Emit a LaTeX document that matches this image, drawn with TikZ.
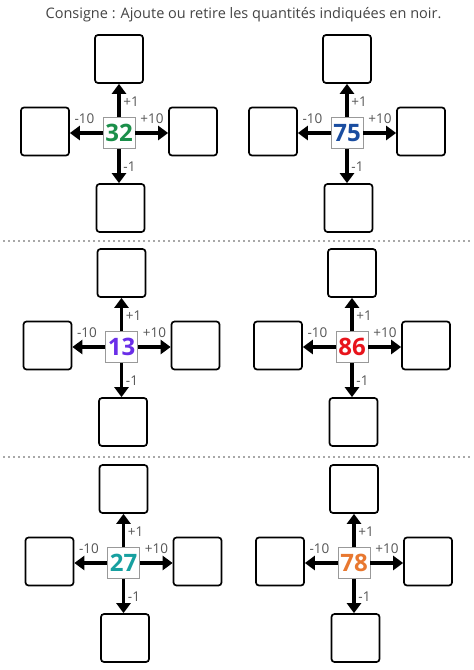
\documentclass[tikz,border=0pt]{standalone}
\usepackage{fontspec}
\setmainfont{Open Sans}
\usetikzlibrary{arrows.meta,calc}
\definecolor{titlegray}{HTML}{444444}
\definecolor{labgray}{HTML}{555555}
\definecolor{dotgray}{HTML}{A8A8A8}
\definecolor{cgreen}{HTML}{1B8F4A}
\definecolor{cblue}{HTML}{1A4DA0}
\definecolor{cpurple}{HTML}{6A2EE8}
\definecolor{cred}{HTML}{E8141C}
\definecolor{cteal}{HTML}{17A0A0}
\definecolor{corange}{HTML}{E87830}
\tikzset{
  answerbox/.style={draw=black, line width=1.7pt, rounded corners=3pt, minimum width=48pt, minimum height=48pt, inner sep=0pt, fill=white},
  centerbox/.style={draw=gray!80, line width=0.8pt, minimum width=32pt, minimum height=31pt, inner sep=0pt, fill=white, font=\fontsize{24}{24}\selectfont\bfseries},
  oplabel/.style={text=labgray, font=\fontsize{13.5}{13.5}\selectfont, inner sep=0pt},
  oparrow/.style={line width=3.2pt, -{Triangle[width=14pt,length=10pt]}},
  sepline/.style={dotgray, line width=2pt, dash pattern=on 2pt off 3pt}
}
\newcommand\opcluster[5]{%
  \node[centerbox, text=#5] (#1c) at (#2,#3) {#4};
  \node[answerbox] (#1t) at ($(#2,#3)+(0,-74)$) {};
  \node[answerbox] (#1b) at ($(#2,#3)+(1.5,75)$) {};
  \node[answerbox] (#1l) at ($(#2,#3)+(-74,-1.5)$) {};
  \node[answerbox] (#1r) at ($(#2,#3)+(74,-1.5)$) {};
  \draw[oparrow] (#1c.north) -- (#1c.north |- #1t.south);
  \draw[oparrow] (#1c.south) -- (#1c.south |- #1b.north);
  \draw[oparrow] (#1c.west) -- (#1c.west -| #1l.east);
  \draw[oparrow] (#1c.east) -- (#1c.east -| #1r.west);
  \node[oplabel] (#1p1) at ($(#2,#3)+(12,-31)$) {+1};
  \node[oplabel] (#1m1) at ($(#2,#3)+(10.5,34)$) {-1};
  \node[oplabel] (#1m10) at ($(#2,#3)+(-34.5,-14.5)$) {-10};
  \node[oplabel] (#1p10) at ($(#2,#3)+(33,-14.5)$) {+10};
}
\begin{document}
\begin{tikzpicture}[x=1pt,y=-1pt]
\useasboundingbox[fill=white] (0,0) rectangle (474,670);
\node[text=titlegray, font=\fontsize{14.5}{14.5}\selectfont, inner sep=0pt] (title) at (243.5,15) {Consigne : Ajoute ou retire les quantités indiquées en noir.};
\coordinate (s1a) at (3,240.5);
\coordinate (s1b) at (472,240.5);
\coordinate (s2a) at (3,456.5);
\coordinate (s2b) at (472,456.5);
\draw[sepline] (s1a) -- (s1b);
\draw[sepline] (s2a) -- (s2b);
\opcluster{a}{119}{133}{32}{cgreen}
\opcluster{b}{347}{133}{75}{cblue}
\opcluster{c}{121.5}{347}{13}{cpurple}
\opcluster{d}{352}{347}{86}{cred}
\opcluster{e}{123.5}{563}{27}{cteal}
\opcluster{f}{354}{563}{78}{corange}
\end{tikzpicture}
\end{document}
